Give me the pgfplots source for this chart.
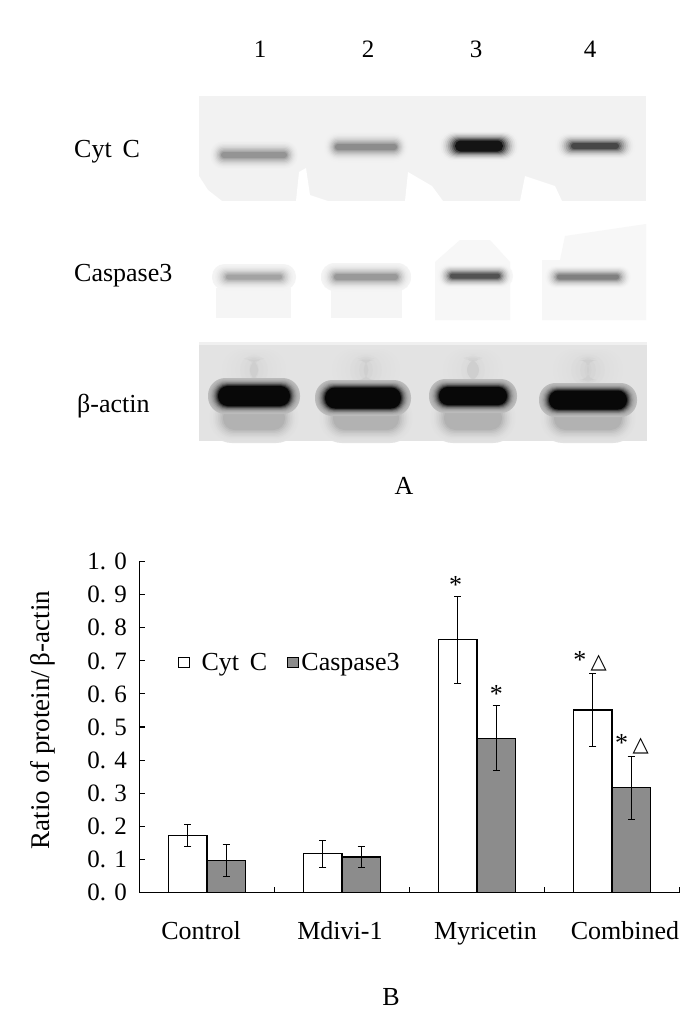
\documentclass[border=0pt]{standalone}
\usepackage{fontspec}
\setmainfont{Liberation Serif}
\newfontfamily\symfont{DejaVu Sans}
\usepackage{pgfplots}
\pgfplotsset{compat=1.18}

% blurred blot band: cx, cy, core w, core h, halo w, halo h, band colour, background
\newcommand{\band}[8]{%
  \colorlet{bandc}{#7}\colorlet{bandb}{#8}%
  \foreach \k in {1,...,10}{%
    \pgfmathsetmacro{\w}{#5+(#3-#5)*(\k-1)/9}%
    \pgfmathsetmacro{\h}{#6+(#4-#6)*(\k-1)/9}%
    \pgfmathsetmacro{\p}{100*(\k/10)^2.2}%
    \fill[bandc!\p!bandb, rounded corners=0.48*\h pt]
      ({#1-\w/2},{#2-\h/2}) rectangle ({#1+\w/2},{#2+\h/2});
  }%
}

\begin{document}
\begin{tikzpicture}
\begin{scope}[x=1pt,y=-1pt]
  \useasboundingbox (0,0) rectangle (700,1023);
  \fill[white] (0,0) rectangle (700,1023);

  % upper blot
  \fill[black!5] (199,96) rectangle (646,201);
  \fill[white] (199,176) -- (208,190) -- (222,201) -- (199,201) -- cycle;
  \fill[white] (296,201) -- (299,172) -- (306,168) -- (310,195) -- (328,201) -- cycle;
  \fill[white] (405,201) -- (408,172) -- (432,186) -- (443,201) -- cycle;
  \fill[white] (520,201) -- (525,176) -- (555,186) -- (562,201) -- cycle;
  \band{254}{155}{66}{6}{90}{30}{black!42}{black!5}
  \band{366}{147}{62}{6}{84}{30}{black!45}{black!5}
  \band{479}{146}{48}{11}{80}{30}{black!92}{black!5}
  \band{595}{146}{48}{6}{80}{26}{black!72}{black!5}

  % middle blot
  \fill[black!4] (216,288) rectangle (291,318);
  \fill[black!4] (331,288) rectangle (402,318);
  \fill[black!3] (460,240) -- (490,240) -- (510,262) -- (510,320) -- (435,320) -- (435,262) -- cycle;
  \fill[black!3] (560,260) -- (565,236) -- (646,224) -- (646,320) -- (542,320) -- (542,260) -- cycle;
  \band{254}{277}{56}{5}{84}{26}{black!36}{black!4}
  \band{366}{277}{64}{6}{90}{28}{black!40}{black!4}
  \band{475}{276}{50}{5}{76}{24}{black!68}{black!3}
  \band{588}{277}{62}{5}{88}{24}{black!50}{black!3}

  % actin blot
  \fill[black!11] (199,342) rectangle (647,441);
  \fill[black!6] (199,342) rectangle (647,345);
  \foreach \c/\d in {254/92,366/96,473/88,588/98}{
    \band{\c}{418}{\d-30}{24}{\d}{50}{black!30}{black!11}
    \band{\c}{370}{\d-60}{20}{\d-20}{44}{black!19}{black!11}
  }
  \band{254}{396}{72}{20}{92}{36}{black!97}{black!26}
  \band{363}{398}{76}{21}{96}{36}{black!97}{black!26}
  \band{473}{396}{68}{18}{88}{34}{black!97}{black!26}
  \band{588}{400}{78}{19}{98}{34}{black!97}{black!26}

  % blot text
  \node[font=\fontsize{25}{28}\selectfont] at (260,49) {1};
  \node[font=\fontsize{25}{28}\selectfont] at (368,49) {2};
  \node[font=\fontsize{25}{28}\selectfont] at (476,49) {3};
  \node[font=\fontsize{25}{28}\selectfont] at (590,49) {4};
  \node[font=\fontsize{26}{28}\selectfont,anchor=base west,inner sep=0pt] at (74,157) {Cyt\, C};
  \node[font=\fontsize{26}{28}\selectfont,anchor=base west,inner sep=0pt] at (74,281) {Caspase3};
  \node[font=\fontsize{26}{28}\selectfont,anchor=base west,inner sep=0pt] at (77,412) {β-actin};
  \node[font=\fontsize{26}{28}\selectfont] at (404,486) {A};
  \node[font=\fontsize{26}{28}\selectfont] at (391,997) {B};
\end{scope}

\begin{axis}[
    at={(139.5pt,-892.3pt)}, anchor=south west,
    scale only axis, width=540pt, height=330.6pt,
    axis x line=bottom, axis y line=left,
    axis line style={-, line width=1.2pt},
    xmin=-0.5, xmax=3.5, ymin=0, ymax=1,
    ybar, bar width=38.4pt, bar shift=0pt,
    clip=false,
    font=\fontsize{26}{28}\selectfont,
    ytick={0,0.1,...,1.0},
    yticklabels={0. 0,0. 1,0. 2,0. 3,0. 4,0. 5,0. 6,0. 7,0. 8,0. 9,1. 0},
    y tick label style={font=\fontsize{25}{28}\selectfont, xshift=-9pt},
    ytick style={line width=1.1pt, black},
    major tick length=5pt,
    tick align=inside,
    xtick={-0.5,0.5,1.5,2.5,3.5},
    xticklabels={},
    xtick style={line width=1.1pt, black},
    extra x ticks={-0.044,0.985,2.063,3.096},
    extra x tick labels={Control,Mdivi-1,Myricetin,Combined},
    extra x tick style={major tick length=0pt, tick label style={yshift=-27pt, text height=17pt, text depth=6pt}},
    ylabel={Ratio of protein/\,β-actin},
    every axis y label/.style={at={(axis description cs:-0.179,0.521)}, rotate=90, anchor=center, font=\fontsize{27}{28}\selectfont},
    legend style={at={(axis description cs:0.07,0.695)}, anchor=west, draw=none, fill=none, font=\fontsize{26}{28}\selectfont, inner sep=0pt, /tikz/every even column/.append style={column sep=18pt}},
    legend columns=2,
    legend image code/.code={\draw[#1, line width=1.1pt] (0pt,-5pt) rectangle (11pt,5pt);},
    error bars/error bar style={black, line width=1.1pt},
    error bars/error mark options={black, rotate=90, mark size=3.5pt, line width=1.1pt},
  ]
  \addplot[draw=black, line width=1.3pt, fill=white, bar shift=-19.2pt,
    error bars/.cd, y dir=both, y explicit] coordinates {
    (0,0.171) += (0,0.033) -= (0,0.033)
    (1,0.117) += (0,0.041) -= (0,0.043)
    (2,0.765) += (0,0.131) -= (0,0.134)
    (3,0.551) += (0,0.110) -= (0,0.109)
  };
  \addplot[draw=black, line width=1.3pt, fill=black!45, bar shift=19.2pt,
    error bars/.cd, y dir=both, y explicit] coordinates {
    (0,0.097) += (0,0.048) -= (0,0.050)
    (1,0.107) += (0,0.031) -= (0,0.033)
    (2,0.465) += (0,0.100) -= (0,0.097)
    (3,0.316) += (0,0.096) -= (0,0.097)
  };
  \legend{\hspace{10pt}Cyt\, C,Caspase3}
  \node[font=\fontsize{26}{28}\selectfont] at (axis cs:1.841,0.930) {*};
  \node[font=\fontsize{26}{28}\selectfont] at (axis cs:2.144,0.600) {*};
  \node[font=\fontsize{26}{28}\selectfont,inner sep=0pt] at (axis cs:2.837,0.70) {*\,{\symfont\fontsize{21}{22}\selectfont △}};
  \node[font=\fontsize{26}{28}\selectfont,inner sep=0pt] at (axis cs:3.148,0.449) {*\,{\symfont\fontsize{21}{22}\selectfont △}};
\end{axis}
\end{tikzpicture}
\end{document}
